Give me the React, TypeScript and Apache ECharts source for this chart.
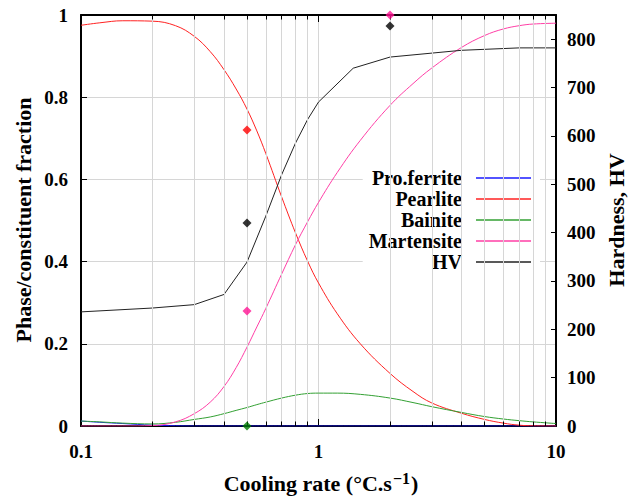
import React, { useEffect, useRef } from 'react';
import * as echarts from 'echarts';

const FONT = '"Liberation Serif", "Times New Roman", Times, serif';

// Cooling rates (°C/s) at which the phase curves are sampled
const phaseRates = [0.1, 0.12, 0.15, 0.2, 0.25, 0.3, 0.35, 0.4, 0.45, 0.5, 0.55, 0.6, 0.7, 0.8, 0.9, 1, 1.2, 1.5, 2, 2.5, 3, 4, 5, 6, 7, 8, 10];
const proFerrite = [0.012, 0.009, 0.006, 0.002, 0.0005, 0, 0, 0, 0, 0, 0, 0, 0, 0, 0, 0, 0, 0, 0, 0, 0, 0, 0, 0, 0, 0, 0];
const pearlite = [0.975, 0.981, 0.986, 0.985, 0.974, 0.948, 0.911, 0.867, 0.82, 0.771, 0.718, 0.663, 0.557, 0.47, 0.401, 0.348, 0.273, 0.2, 0.128, 0.084, 0.056, 0.031, 0.016, 0.007, 0.002, 0.0005, 0];
const bainite = [0.012, 0.01, 0.007, 0.005, 0.009, 0.016, 0.022, 0.03, 0.038, 0.045, 0.052, 0.058, 0.068, 0.075, 0.079, 0.08, 0.08, 0.077, 0.068, 0.057, 0.047, 0.033, 0.023, 0.017, 0.013, 0.01, 0.006];
const martensite = [0, 0, 0, 0.001, 0.01, 0.03, 0.058, 0.096, 0.142, 0.192, 0.241, 0.286, 0.37, 0.441, 0.497, 0.544, 0.617, 0.695, 0.78, 0.833, 0.871, 0.921, 0.95, 0.966, 0.974, 0.978, 0.98];

// Hardness curve
const hvRates = [0.1, 0.2, 0.3, 0.4, 0.5, 0.6, 0.7, 0.8, 0.9, 1, 1.4, 2, 4, 7, 10];
const hvValues = [236, 244, 251, 272, 339, 434, 520, 585, 634, 670, 740, 763, 777, 782, 782];

// Measured points
const measuredFraction = [
  { rate: 0.5, value: 0.72, color: '#ff0000' },
  { rate: 0.5, value: 0.28, color: '#ff1493' },
  { rate: 0.5, value: 0, color: '#007a00' },
  { rate: 2, value: 1.0, color: '#ff1493' },
];
const measuredHV = [
  { rate: 0.5, value: 420 },
  { rate: 2, value: 827 },
];

// Minor log gridlines
const minorRates = [0.2, 0.3, 0.4, 0.5, 0.6, 0.7, 0.8, 0.9, 2, 3, 4, 5, 6, 7, 8, 9];

const legendNames = ['Pro.ferrite', 'Pearlite', 'Bainite', 'Martensite', 'HV'];

export default function App() {
  const ref = useRef<HTMLDivElement>(null);
  useEffect(() => {
    const chart = echarts.init(ref.current as HTMLDivElement, undefined, { renderer: 'svg' });
    const pair = (xs: number[], ys: number[]) => xs.map((x, i) => [x, ys[i]]);

    const tickMarks: any[] = [];
    minorRates.forEach((v) => {
      tickMarks.push([{ coord: [v, 0] }, { coord: [v, 0.011] }]);
      tickMarks.push([{ coord: [v, 1] }, { coord: [v, 0.989] }]);
    });

    const phaseSeries = (name: string, data: number[], color: string) => ({
      name,
      type: 'line',
      xAxisIndex: 0,
      yAxisIndex: 0,
      data: pair(phaseRates, data),
      showSymbol: false,
      symbol: 'none',
      smooth: 0.4,
      color,
      itemStyle: { color },
      lineStyle: { color, width: 1 },
      z: 3,
    });

    const option: any = {
      animation: false,
      grid: { left: 81, right: 73, top: 15, bottom: 76, containLabel: false },
      legend: {
        data: legendNames,
        orient: 'vertical',
        right: 89,
        top: 165,
        align: 'right',
        icon: 'rect',
        itemWidth: 55,
        itemHeight: 1.5,
        itemGap: 1,
        backgroundColor: '#ffffff',
        padding: [3, 9, 3, 6],
        selectedMode: false,
        textStyle: {
          fontFamily: FONT,
          fontWeight: 'bold',
          fontSize: 20,
          color: '#000',
          lineHeight: 20,
          padding: [0, 9, 0, 0],
        },
      },
      xAxis: [
        {
          type: 'log',
          logBase: 10,
          min: 0.1,
          max: 10,
          position: 'bottom',
          axisLine: { show: true, onZero: false, lineStyle: { color: '#000', width: 2 } },
          axisTick: { show: true, inside: true, length: 7, lineStyle: { color: '#000', width: 1 } },
          axisLabel: {
            fontFamily: FONT,
            fontWeight: 'bold',
            fontSize: 19,
            color: '#000',
            margin: 16,
            formatter: (v: number) => String(Number(v.toPrecision(3))),
          },
          splitLine: { show: true, lineStyle: { color: '#d6d6d6', width: 1 } },
          minorTick: { show: false },
          minorSplitLine: { show: false },
        },
        {
          type: 'log',
          logBase: 10,
          min: 0.1,
          max: 10,
          position: 'top',
          axisLine: { show: true, onZero: false, lineStyle: { color: '#000', width: 2 } },
          axisTick: { show: true, inside: true, length: 7, lineStyle: { color: '#000', width: 1 } },
          axisLabel: { show: false },
          splitLine: { show: false },
        },
      ],
      yAxis: [
        {
          type: 'value',
          min: 0,
          max: 1,
          interval: 0.2,
          position: 'left',
          axisLine: { show: true, onZero: false, lineStyle: { color: '#000', width: 2 } },
          axisTick: { show: true, inside: true, length: 6, lineStyle: { color: '#000', width: 1 } },
          axisLabel: { fontFamily: FONT, fontWeight: 'bold', fontSize: 19, color: '#000', margin: 13 },
          splitLine: { show: true, lineStyle: { color: '#d6d6d6', width: 1 } },
        },
        {
          type: 'value',
          min: 0,
          max: 850,
          interval: 100,
          position: 'right',
          axisLine: { show: true, onZero: false, lineStyle: { color: '#000', width: 2 } },
          axisTick: { show: true, inside: true, length: 5, lineStyle: { color: '#000', width: 1 } },
          axisLabel: {
            fontFamily: FONT,
            fontWeight: 'bold',
            fontSize: 19,
            color: '#000',
            margin: 11,
            formatter: (v: number) => (v <= 800 ? String(v) : ''),
          },
          splitLine: { show: false },
        },
      ],
      graphic: [
        {
          type: 'text',
          x: 23,
          y: 220,
          rotation: Math.PI / 2,
          style: {
            text: 'Phase/constituent fraction',
            fontFamily: FONT,
            fontWeight: 'bold',
            fontSize: 22,
            fill: '#000',
            align: 'center',
            verticalAlign: 'middle',
          },
        },
        {
          type: 'text',
          x: 616,
          y: 220,
          rotation: Math.PI / 2,
          style: {
            text: 'Hardness, HV',
            fontFamily: FONT,
            fontWeight: 'bold',
            fontSize: 22,
            fill: '#000',
            align: 'center',
            verticalAlign: 'middle',
          },
        },
        {
          type: 'text',
          x: 321,
          y: 482,
          style: {
            text: '{a|Cooling rate (°C.s}{b|−1}{a|)}',
            align: 'center',
            verticalAlign: 'middle',
            rich: {
              a: { fontFamily: FONT, fontWeight: 'bold', fontSize: 22, lineHeight: 24, fill: '#000', verticalAlign: 'bottom' },
              b: { fontFamily: FONT, fontWeight: 'bold', fontSize: 16, lineHeight: 16, fill: '#000', verticalAlign: 'top', padding: [0, 1, 18, 1] },
            },
          },
        },
      ],
      series: [
        {
          name: '_grid',
          type: 'line',
          data: [],
          xAxisIndex: 0,
          yAxisIndex: 0,
          z: 1,
          silent: true,
          markLine: {
            silent: true,
            symbol: ['none', 'none'],
            label: { show: false },
            emphasis: { disabled: true },
            lineStyle: { color: '#d6d6d6', width: 1, type: 'solid' },
            data: minorRates.map((v) => ({ xAxis: v })),
          },
        },
        {
          name: '_ticks',
          type: 'line',
          data: [],
          xAxisIndex: 0,
          yAxisIndex: 0,
          z: 2,
          silent: true,
          markLine: {
            silent: true,
            symbol: ['none', 'none'],
            label: { show: false },
            emphasis: { disabled: true },
            lineStyle: { color: '#000', width: 1, type: 'solid' },
            data: tickMarks,
          },
        },
        phaseSeries('Pro.ferrite', proFerrite, '#1a1aff'),
        phaseSeries('Pearlite', pearlite, '#ff2222'),
        phaseSeries('Bainite', bainite, '#33a033'),
        phaseSeries('Martensite', martensite, '#ff3fa6'),
        {
          name: 'HV',
          type: 'line',
          xAxisIndex: 0,
          yAxisIndex: 1,
          data: pair(hvRates, hvValues),
          showSymbol: false,
          symbol: 'none',
          color: '#222222',
          itemStyle: { color: '#222222' },
          lineStyle: { color: '#222222', width: 1 },
          z: 3,
        },
        {
          name: '_measuredFraction',
          type: 'scatter',
          xAxisIndex: 0,
          yAxisIndex: 0,
          symbol: 'diamond',
          symbolSize: 9,
          clip: false,
          z: 5,
          data: measuredFraction.map((m) => ({ value: [m.rate, m.value], itemStyle: { color: m.color } })),
        },
        {
          name: '_measuredHV',
          type: 'scatter',
          xAxisIndex: 0,
          yAxisIndex: 1,
          symbol: 'diamond',
          symbolSize: 9,
          clip: false,
          z: 5,
          itemStyle: { color: '#000' },
          data: measuredHV.map((m) => [m.rate, m.value]),
        },
      ],
    };
    chart.setOption(option);
    return () => chart.dispose();
  }, []);
  return <div ref={ref} style={{ position: 'absolute', left: 0, top: 0, width: 629, height: 502 }} />;
}
